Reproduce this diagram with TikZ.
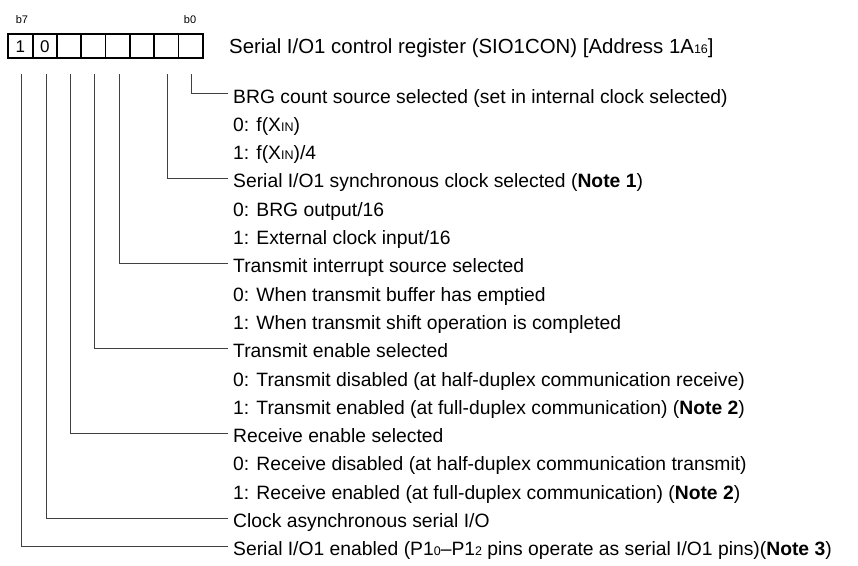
\documentclass[tikz,border=0pt]{standalone}
\usepackage{fontspec}
\setmainfont{Liberation Sans}
\newcommand\lowsub[1]{{\fontsize{12.5}{12.5}\selectfont #1}}
\begin{document}
\begin{tikzpicture}[x=1pt,y=-1pt,
  cell/.style={draw=black,line width=1.8pt,minimum width=24.3pt,minimum height=24pt,inner sep=0pt,font=\fontsize{17}{17}\selectfont},
  txt/.style={inner sep=0pt,anchor=base west,font=\fontsize{19.3}{19.3}\selectfont},
  bitlbl/.style={inner sep=0pt,font=\fontsize{11}{11}\selectfont},
  conn/.style={draw=black!75,line width=0.9pt}]
\useasboundingbox (0,0) rectangle (858,565);
% register cells
\foreach \i/\v [evaluate=\i as \xx using {8.3+24.3*(7-\i)+12.15}] in {7/1,6/0,5/,4/,3/,2/,1/,0/}{
  \node[cell] (c\i) at (\xx,46.3) {\v};
}
\node[bitlbl] (lb7) at (22,20) {b7};
\node[bitlbl] (lb0) at (190,20) {b0};
\node[txt,font=\fontsize{20.4}{20.4}\selectfont] (title) at (229,53.5) {Serial I/O1 control register (SIO1CON) [Address 1A\lowsub{16}]};
% rows
\node[txt] (r0) at (233,{103+28.3*0}) {BRG count source selected (set in internal clock selected)};
\node[txt] (r1) at (233,{103+28.3*1}) {0: f(X\lowsub{IN})};
\node[txt] (r2) at (233,{103+28.3*2}) {1: f(X\lowsub{IN})/4};
\node[txt] (r3) at (233,{103+28.3*3}) {Serial I/O1 synchronous clock selected (\textbf{Note 1})};
\node[txt] (r4) at (233,{103+28.3*4}) {0: BRG output/16};
\node[txt] (r5) at (233,{103+28.3*5}) {1: External clock input/16};
\node[txt] (r6) at (233,{103+28.3*6}) {Transmit interrupt source selected};
\node[txt] (r7) at (233,{103+28.3*7}) {0: When transmit buffer has emptied};
\node[txt] (r8) at (233,{103+28.3*8}) {1: When transmit shift operation is completed};
\node[txt] (r9) at (233,{103+28.3*9}) {Transmit enable selected};
\node[txt] (r10) at (233,{103+28.3*10}) {0: Transmit disabled (at half-duplex communication receive)};
\node[txt] (r11) at (233,{103+28.3*11}) {1: Transmit enabled (at full-duplex communication) (\textbf{Note 2})};
\node[txt] (r12) at (233,{103+28.3*12}) {Receive enable selected};
\node[txt] (r13) at (233,{103+28.3*13}) {0: Receive disabled (at half-duplex communication transmit)};
\node[txt] (r14) at (233,{103+28.3*14}) {1: Receive enabled (at full-duplex communication) (\textbf{Note 2})};
\node[txt] (r15) at (233,{103+28.3*15}) {Clock asynchronous serial I/O};
\node[txt] (r16) at (233,{103+28.3*16}) {Serial I/O1 enabled (P1\lowsub{0}--P1\lowsub{2} pins operate as serial I/O1 pins)(\textbf{Note 3})};
% connectors
\foreach \b/\r in {0/0,1/3,3/6,4/9,5/12,6/15,7/16}{
  \draw[conn] ([xshift=1.3pt,yshift=-15pt]c\b.south) |- ([xshift=-5pt,yshift=9.5pt]r\r.base west);
}
\end{tikzpicture}
\end{document}
